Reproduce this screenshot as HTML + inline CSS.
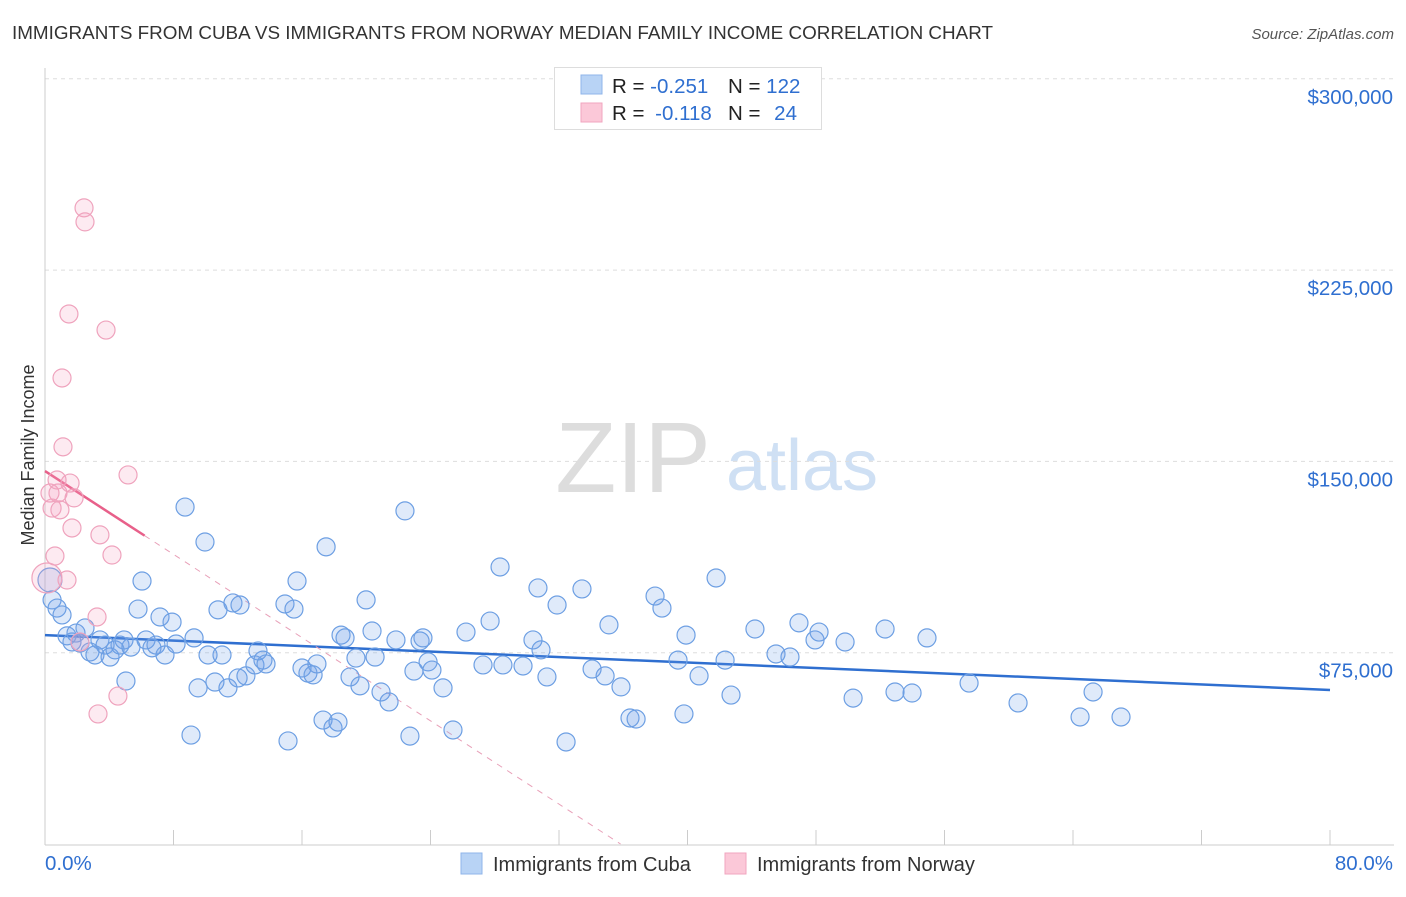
<!DOCTYPE html>
<html><head><meta charset="utf-8"><style>
body{margin:0;background:#fff;font-family:"Liberation Sans",sans-serif;}
svg text{font-family:"Liberation Sans",sans-serif;}
</style></head><body>
<svg id="chart" width="1406" height="892">
<text x="12" y="39" font-size="18.8" fill="#333" textLength="981" lengthAdjust="spacingAndGlyphs">IMMIGRANTS FROM CUBA VS IMMIGRANTS FROM NORWAY MEDIAN FAMILY INCOME CORRELATION CHART</text>
<text x="1394" y="39" font-size="15" fill="#555" text-anchor="end" font-style="italic">Source: ZipAtlas.com</text>
<text x="633" y="492" font-size="100" fill="#ddd" text-anchor="middle" font-family="Liberation Serif">ZIP</text>
<text x="802" y="490" font-size="72" fill="#cfe0f4" text-anchor="middle">atlas</text>
<text transform="translate(34,455) rotate(-90)" font-size="18" fill="#333" text-anchor="middle">Median Family Income</text>
<g id="grid"></g><g id="axes"></g><g id="trend"></g><g id="pts"></g>
<g>
<rect x="554.5" y="67.5" width="267" height="62" fill="#fff" stroke="#ddd"/>
<rect x="581" y="75" width="21" height="19" fill="#b8d3f5" stroke="#8fb5ea"/>
<rect x="581" y="103" width="21" height="19" fill="#fbc8d8" stroke="#f0a6bf"/>
<text x="612" y="93" font-size="20.5" fill="#222">R = <tspan fill="#2f6fd0">-0.251</tspan><tspan x="728">N = </tspan><tspan fill="#2f6fd0">122</tspan></text>
<text x="612" y="120" font-size="20.5" fill="#222">R = <tspan fill="#2f6fd0" dx="5">-0.118</tspan><tspan x="728">N = </tspan><tspan fill="#2f6fd0" dx="8">24</tspan></text>
</g>
<g>
<rect x="461" y="853" width="21" height="21" fill="#b8d3f5" stroke="#8fb5ea"/>
<text x="493" y="871" font-size="20" fill="#333">Immigrants from Cuba</text>
<rect x="725" y="853" width="21" height="21" fill="#fbc8d8" stroke="#f0a6bf"/>
<text x="757" y="871" font-size="20" fill="#333">Immigrants from Norway</text>
</g>
</svg>
<script>
const yTicks=[75000,150000,225000,300000];
const yTickLabels=["$75,000","$150,000","$225,000","$300,000"];
const xTickLabels=["0.0%","80.0%"];
const cubaX=[0.31,0.44,0.75,1.06,1.37,1.68,1.93,2.18,2.49,2.8,3.11,3.42,3.74,4.05,4.36,4.67,4.92,5.04,5.35,5.79,6.04,6.29,6.66,6.91,7.16,7.47,7.91,8.16,8.72,9.09,9.28,9.53,9.96,10.15,10.58,10.77,11.02,11.39,11.7,12.14,12.02,12.51,13.07,13.26,13.57,13.76,15.13,14.94,15.5,15.69,16,16.37,16.69,16.93,17.31,17.5,17.93,18.24,18.43,18.68,18.99,19.36,19.61,19.99,20.36,20.55,20.92,21.42,21.85,22.41,22.72,22.97,23.35,23.53,23.85,24.09,24.78,25.4,26.21,27.27,27.71,28.33,28.51,29.76,30.38,30.69,30.88,31.25,31.88,32.44,33.43,34.06,34.87,35.11,35.86,36.42,36.8,37.98,38.41,39.41,39.78,39.91,40.72,41.78,42.34,42.71,44.2,45.51,46.38,46.94,47.94,48.19,49.81,50.31,52.3,52.92,53.98,54.91,57.53,60.58,64.44,65.25,66.99];
const cubaY=[103.5,95.7,92.5,89.8,81.6,79.2,82.7,78.8,84.7,75.3,74.1,80,78,73.3,76.1,78,80,63.9,77.2,92.1,103.1,80,76.9,78,89,74.1,87,78.4,132.1,42.7,80.8,61.2,118.4,74.1,63.5,91.8,74.1,61.2,94.5,93.7,65.1,65.9,70.2,75.7,72.1,70.6,40.4,94.1,92.1,103.1,69,67,66.3,70.6,48.6,116.5,45.5,47.8,81.9,80.8,65.5,72.9,62,95.7,83.5,73.3,59.6,55.7,80,130.6,42.3,67.8,79.6,80.8,71.4,68.2,61.2,44.7,83.1,70.2,87.4,108.6,70.2,69.8,80,100.4,76.1,65.5,93.7,40,100,68.6,65.9,85.9,61.6,49.4,49,97.2,92.5,72.1,51,81.9,65.9,104.3,72.1,58.4,84.3,74.5,73.3,86.7,80,83.1,79.2,57.2,84.3,59.6,59.2,80.8,63.1,55.3,49.8,59.6,49.8];
const norwayX=[0.12,0.31,0.44,0.62,0.75,0.81,0.93,1.06,1.12,1.37,1.49,1.56,1.68,1.81,2.18,2.43,2.49,3.24,3.3,3.42,3.8,4.17,4.54,5.17];
const norwayY=[104.3,137.6,131.7,112.9,142.7,137.6,131,182.7,155.7,103.5,207.8,141.5,123.9,135.7,79.2,249.4,243.9,89,51,121.2,201.5,113.3,58,144.7];
const cubaTrend=[81.9,60.4];      // $k at 0% and 80%
const norwayTrend=[146.2,-4.08];  // intercept $k, slope $k per %
const NS="http://www.w3.org/2000/svg";
const X=v=>45+v/80*1285;
const Y=v=>844-v/75000*191.3;
function mk(tag,attrs,parent){const e=document.createElementNS(NS,tag);for(const k in attrs)e.setAttribute(k,attrs[k]);parent.appendChild(e);return e;}
const grid=document.getElementById('grid'),axes=document.getElementById('axes'),trend=document.getElementById('trend'),pts=document.getElementById('pts');
yTicks.forEach((t,i)=>{
 const l=mk('line',{x1:45,x2:1394,y1:Y(t),y2:Y(t),stroke:'#ddd','stroke-dasharray':'4,4'},grid);
 
 
 const tx=mk('text',{x:1393,y:Y(t)+25,'font-size':20.5,fill:'#2f6fd0','text-anchor':'end'},axes);
 tx.textContent=yTickLabels[i];
 
 
});
mk('line',{x1:45,x2:45,y1:68,y2:845,stroke:'#ccc'},axes);
mk('line',{x1:45,x2:1394,y1:845,y2:845,stroke:'#ccc'},axes);
for(let p=0;p<=80;p+=8){const t=mk('line',{x1:X(p),x2:X(p),y1:830,y2:845,stroke:'#ccc'},axes);
 
 }
const xl0=mk('text',{x:45,y:870,'font-size':20.5,fill:'#2f6fd0'},axes);xl0.textContent=xTickLabels[0];


const xl1=mk('text',{x:1393,y:870,'font-size':20.5,fill:'#2f6fd0','text-anchor':'end'},axes);xl1.textContent=xTickLabels[1];


const bt=mk('line',{x1:X(0),y1:Y(cubaTrend[0]*1000),x2:X(80),y2:Y(cubaTrend[1]*1000),stroke:'#2f6fd0','stroke-width':2.5},trend);


const nx0=-norwayTrend[0]/norwayTrend[1];
const pd=mk('line',{x1:X(6.2),y1:Y((norwayTrend[0]+norwayTrend[1]*6.2)*1000),x2:X(nx0),y2:Y(0),stroke:'#e8a0b8','stroke-width':1,'stroke-dasharray':'6,6'},trend);


const pt=mk('line',{x1:X(0),y1:Y(norwayTrend[0]*1000),x2:X(6.2),y2:Y((norwayTrend[0]+norwayTrend[1]*6.2)*1000),stroke:'#e8608a','stroke-width':2.5},trend);


cubaX.forEach((x,i)=>{const c=mk('circle',{cx:X(x),cy:Y(cubaY[i]*1000),r:i===0?12:9,fill:'rgba(110,160,230,0.22)',stroke:'#6d9fe3','stroke-width':1.2},pts);
 
 });
norwayX.forEach((x,i)=>{const c=mk('circle',{cx:X(x),cy:Y(norwayY[i]*1000),r:i===0?15:9,fill:'rgba(245,160,190,0.22)',stroke:'#efa3bd','stroke-width':1.2},pts);
 
 });
</script>
</body></html>
